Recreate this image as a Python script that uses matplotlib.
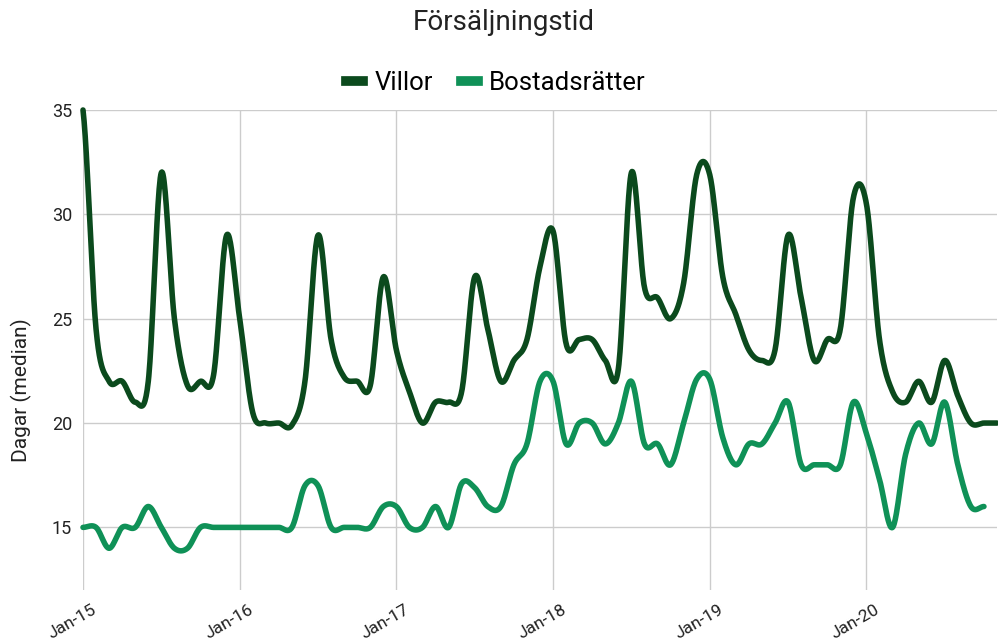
import numpy as np
import pandas as pd
import matplotlib
matplotlib.use("Agg")
import matplotlib.pyplot as plt
import matplotlib.transforms as mtransforms
from matplotlib.lines import Line2D

plt.rcParams["font.family"] = ["Roboto", "DejaVu Sans"]

# monthly medians, Jan-15 .. Nov-20
months = pd.date_range("2015-01-01", periods=71, freq="MS")
villor = [
    35, 24.5, 22, 22, 21, 22, 32, 25, 21.8, 22, 22.3, 29,
    25, 20.5, 20, 20, 19.9, 22, 29, 24, 22.2, 22, 21.8, 27,
    23.5, 21.5, 20, 21, 21, 21.5, 27, 24.5, 22, 23, 24, 27.5,
    29.2, 23.8, 24, 24, 23, 22.6, 32, 26.5, 26, 25, 26.7, 31.9,
    31.9, 27, 25.2, 23.5, 23, 23.5, 29, 26, 23, 24, 24.5, 30.8,
    30.5, 24, 21.5, 21, 22, 21, 23, 21.3, 20, 20, 20,
]
bostadsratter = [
    15, 15, 14, 15, 15, 16, 15, 14, 14, 15, 15, 15,
    15, 15, 15, 15, 15, 17, 17, 15, 15, 15, 15, 16,
    16, 15, 15, 16, 15, 17.1, 16.9, 16, 16, 18, 19, 22,
    22, 19, 20, 20, 19, 20, 22, 19, 19, 18, 20, 22.1,
    22.1, 19.3, 18, 19, 19, 20, 21, 18, 18, 18, 18, 21,
    19.5, 17.3, 15, 18.5, 20, 19, 21, 18, 16, 16,
]
series_names = ["Villor", "Bostadsrätter"]
colors = ["#0b4a1d", "#0f9157"]


def smooth(y, n=24):
    # catmull-rom through the monthly points (like the "smooth" line option)
    y = np.asarray(y, float)
    p = np.concatenate([[y[0]], y, [y[-1]]])
    xs, ys = [], []
    t = np.linspace(0, 1, n, endpoint=False)
    h00 = 2 * t**3 - 3 * t**2 + 1
    h10 = t**3 - 2 * t**2 + t
    h01 = -2 * t**3 + 3 * t**2
    h11 = t**3 - t**2
    for i in range(len(y) - 1):
        m1 = (p[i + 2] - p[i]) / 2
        m2 = (p[i + 3] - p[i + 1]) / 2
        xs.append(i + t)
        ys.append(h00 * p[i + 1] + h10 * m1 + h01 * p[i + 2] + h11 * m2)
    xs.append([len(y) - 1])
    ys.append([y[-1]])
    return np.concatenate(xs), np.concatenate(ys)


fig = plt.figure(figsize=(9.98, 6.42), dpi=100)
ax = fig.add_axes([83 / 998, 1 - 590 / 642, (997 - 83) / 998, (590 - 110) / 642])

for vals, name, c in zip([villor, bostadsratter], series_names, colors):
    sx, sy = smooth(vals)
    ax.plot(sx, sy, color=c, lw=4, solid_capstyle="round", label=name, clip_on=False)

ax.set_xlim(0, len(months) - 1)
ax.set_ylim(12, 35)
ax.set_yticks([15, 20, 25, 30, 35])
jan_idx = [i for i, m in enumerate(months) if m.month == 1]
ax.set_xticks(jan_idx)
ax.set_xticklabels([])
offset = mtransforms.ScaledTranslation(12 / 100, -19 / 100, fig.dpi_scale_trans)
for i in jan_idx:
    ax.text(i, 0, months[i].strftime("%b-%y"), transform=ax.get_xaxis_transform() + offset,
            rotation=30, ha="right", va="center", rotation_mode="anchor", fontsize=12.5, color="#222222")
ax.tick_params(axis="y", labelsize=13, labelcolor="#222222", length=0, pad=8)
ax.tick_params(axis="x", length=0)
ax.grid(True, color="#cccccc", lw=1)
ax.set_axisbelow(True)
for s in ax.spines.values():
    s.set_visible(False)

ax.set_ylabel("Dagar (median)", fontsize=15, color="#222222")
ax.yaxis.set_label_coords(-0.056, 0.417)

fig.text(0.505, 1 - 22 / 642, "Försäljningstid", ha="center", va="center", fontsize=20, color="#222222")
handles = [Line2D([], [], color=c, lw=7) for c in colors]
fig.legend(handles, series_names, loc="center", bbox_to_anchor=(0.497, 1 - 83 / 642), ncol=2,
           frameon=False, fontsize=18.5, handlelength=0.65, columnspacing=1.1, handletextpad=0.45)

fig.savefig("out.png", dpi=100)
